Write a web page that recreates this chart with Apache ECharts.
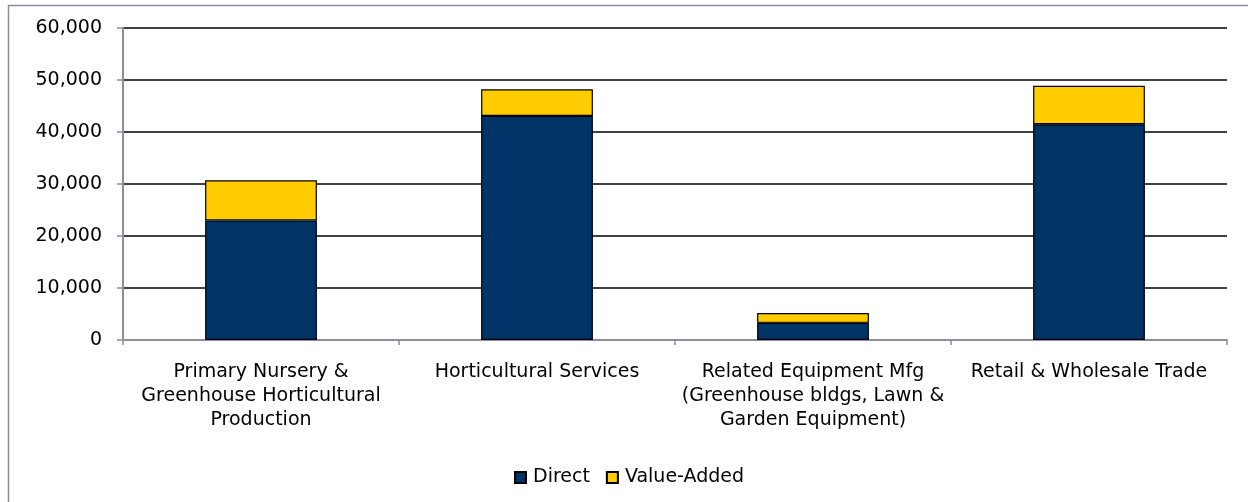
<!DOCTYPE html>
<html>
<head>
<meta charset="utf-8">
<script src="https://cdn.jsdelivr.net/npm/echarts@6/dist/echarts.min.js"></script>
<style>
  html, body { margin: 0; padding: 0; background: #fff; }
  #chart { width: 1248px; height: 502px; }
</style>
</head>
<body>
<div id="chart"></div>
<script>
// Horticulture sector output: direct vs. value-added, by industry segment
const categories = [
  'Primary Nursery &\nGreenhouse Horticultural\nProduction',
  'Horticultural Services',
  'Related Equipment Mfg\n(Greenhouse bldgs, Lawn &\nGarden Equipment)',
  'Retail & Wholesale Trade'
];
const directValues = [23000, 43100, 3300, 41500];
const valueAddedValues = [7700, 5100, 1900, 7400];
const yTicks = [0, 10000, 20000, 30000, 40000, 50000, 60000];

const FONT = '"DejaVu Sans", Verdana, sans-serif';
const AXIS_GRAY = '#8c8ca4';

const chart = echarts.init(document.getElementById('chart'), null, { renderer: 'canvas' });

chart.setOption({
  animation: false,
  backgroundColor: '#ffffff',
  graphic: [{
    type: 'rect',
    shape: { x: 8.5, y: 5.5, width: 1260, height: 520 },
    style: { fill: 'none', stroke: AXIS_GRAY, lineWidth: 1.5 },
    silent: true,
    z: -10
  }],
  grid: { left: 123, right: 21, top: 28, bottom: 162, containLabel: false },
  legend: {
    top: 463,
    left: 509,
    itemWidth: 11,
    itemHeight: 11,
    itemGap: 16,
    icon: 'rect',
    textStyle: { fontFamily: FONT, fontSize: 19, color: '#000', padding: [0, 0, 0, 2] },
    data: ['Direct', 'Value-Added']
  },
  xAxis: {
    type: 'category',
    data: categories,
    axisLine: { lineStyle: { color: AXIS_GRAY, width: 2 } },
    axisTick: { show: true, length: 5, lineStyle: { color: AXIS_GRAY, width: 1.5 } },
    axisLabel: {
      fontFamily: FONT, fontSize: 19, color: '#000',
      lineHeight: 24, margin: 20, interval: 0, align: 'center'
    }
  },
  yAxis: {
    type: 'value',
    min: yTicks[0],
    max: yTicks[yTicks.length - 1],
    interval: yTicks[1] - yTicks[0],
    axisLine: { show: true, lineStyle: { color: AXIS_GRAY, width: 2 } },
    axisTick: { show: true, length: 6, lineStyle: { color: AXIS_GRAY, width: 1.5 } },
    axisLabel: {
      fontFamily: FONT, fontSize: 19, color: '#000', margin: 21,
      formatter: v => v.toLocaleString('en-US')
    },
    splitLine: { show: true, lineStyle: { color: '#000', width: 1.5 } }
  },
  series: [
    {
      name: 'Direct',
      type: 'bar',
      stack: 'total',
      barWidth: '40.5%',
      data: directValues,
      itemStyle: { color: '#003366', borderColor: '#000', borderWidth: 1.2 },
      z: 3
    },
    {
      name: 'Value-Added',
      type: 'bar',
      stack: 'total',
      barWidth: '40.5%',
      data: valueAddedValues,
      itemStyle: { color: '#ffcc00', borderColor: '#000', borderWidth: 1.2 },
      z: 3
    }
  ]
});
</script>
</body>
</html>
